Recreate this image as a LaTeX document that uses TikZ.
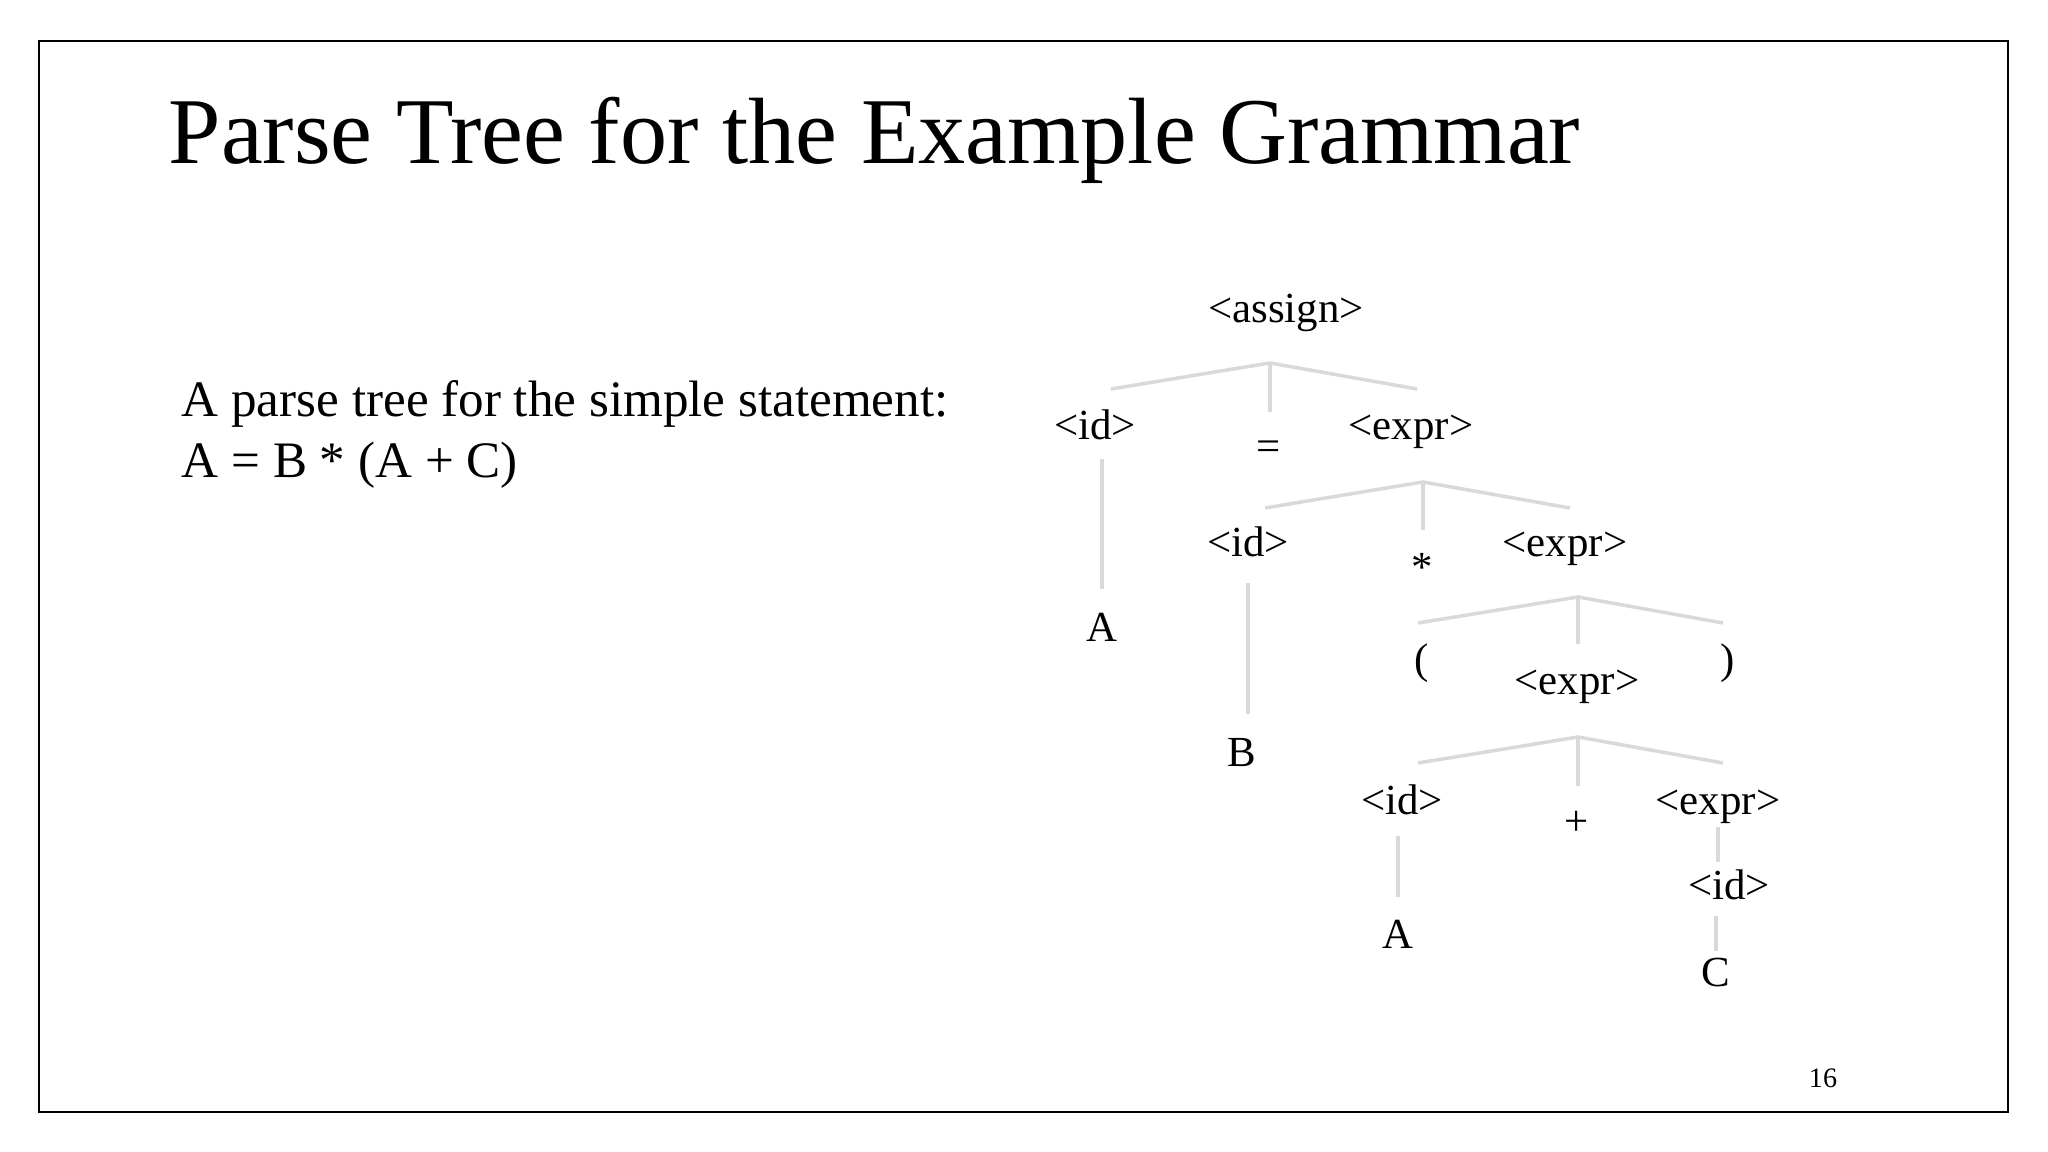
\documentclass[tikz,border=0pt]{standalone}
\usepackage{fontspec}
\setmainfont{Liberation Serif}
\usepackage{tikz}
\usetikzlibrary{calc}
\tikzset{
  branch/.style={line width=1pt, color=black!15},
  sym/.style={font=\fontsize{12.2}{14}\selectfont, inner sep=0pt, anchor=base},
  body/.style={font=\fontsize{14.55}{17}\selectfont, inner sep=0pt, anchor=base west}
}

\begin{document}
\begin{tikzpicture}
			%%%%% START %%%%%
			\useasboundingbox (0, 0) rectangle (20.48, 11.52);
			\draw[line width=0.6pt] (0.39, 0.40) rectangle (20.08, 11.11);
			
			\node[font=\fontsize{26.8}{30}\selectfont, inner sep=0pt, anchor=base west] (title) at (1.68, 9.88) {Parse Tree for the Example Grammar};
			\node[body] (stmt1) at (1.81, 7.35) {A parse tree for the simple statement:};
			\node[body] (stmt2) at (1.81, 6.74) {A = B * (A + C)};
			\node[font=\fontsize{8}{10}\selectfont, inner sep=0pt, anchor=base] (page) at (18.23, 0.64) {16};
			
			% tree symbols
			\node[sym] (assign) at (12.86, 8.29) {<assign>};
			
			\node[sym] (id1) at (10.95, 7.12) {<id>};
			\node[sym] (eq) at (12.69, 6.91) {=};
			\node[sym] (expr1) at (14.11, 7.12) {<expr>};
			\node[sym] (A1) at (11.02, 5.10) {A};
			
			\node[sym] (id2) at (12.48, 5.95) {<id>};
			\node[sym] (star) at (14.22, 5.70) {*};
			\node[sym] (expr2) at (15.65, 5.95) {<expr>};
			\node[sym] (B) at (12.42, 3.85) {B};
			
			\node[sym] (lp) at (14.22, 4.78) {(};
			\node[sym] (expr3) at (15.77, 4.57) {<expr>};
			\node[sym] (rp) at (17.28, 4.78) {)};
			
			\node[sym] (id3) at (14.02, 3.37) {<id>};
			\node[sym] (plus) at (15.77, 3.16) {+};
			\node[sym] (expr4) at (17.18, 3.37) {<expr>};
			\node[sym] (A2) at (13.98, 2.03) {A};
			\node[sym] (id4) at (17.29, 2.52) {<id>};
			\node[sym] (C) at (17.16, 1.65) {C};
			
			% forks
			\coordinate (assign-f) at (12.70, 7.89);
			\coordinate (assign-l) at (11.11, 7.63);
			\coordinate (assign-r) at (14.17, 7.63);
			\coordinate (assign-m) at (12.70, 7.40);
			\draw[branch] (assign-l) -- (assign-f) -- (assign-r);
			\draw[branch] (assign-f) -- (assign-m);
			
			\coordinate (expr1-f) at (14.23, 6.70);
			\coordinate (expr1-l) at (12.65, 6.44);
			\coordinate (expr1-r) at (15.70, 6.44);
			\coordinate (expr1-m) at (14.23, 6.22);
			\draw[branch] (expr1-l) -- (expr1-f) -- (expr1-r);
			\draw[branch] (expr1-f) -- (expr1-m);
			
			\coordinate (expr2-f) at (15.78, 5.55);
			\coordinate (expr2-l) at (14.18, 5.29);
			\coordinate (expr2-r) at (17.23, 5.29);
			\coordinate (expr2-m) at (15.78, 5.08);
			\draw[branch] (expr2-l) -- (expr2-f) -- (expr2-r);
			\draw[branch] (expr2-f) -- (expr2-m);
			
			\coordinate (expr3-f) at (15.78, 4.15);
			\coordinate (expr3-l) at (14.18, 3.89);
			\coordinate (expr3-r) at (17.23, 3.89);
			\coordinate (expr3-m) at (15.78, 3.66);
			\draw[branch] (expr3-l) -- (expr3-f) -- (expr3-r);
			\draw[branch] (expr3-f) -- (expr3-m);
			
			% single children
			\draw[branch, shorten <=0.18cm, shorten >=0.24cm] (id1.south -| A1.north) -- (A1.north);
			\draw[branch, shorten <=0.25cm, shorten >=0.24cm] (id2.south) -- (id2.south |- B.north);
			\draw[branch, shorten <=0.20cm, shorten >=0.23cm] (id3.south -| A2.north) -- (A2.north);
			\draw[branch, shorten <=0.02cm, shorten >=0.08cm] (expr4.south) -- (expr4.south |- id4.north);
			\draw[branch, shorten <=0.15cm, shorten >=0.07cm] (id4.south -| C.north) -- (C.north);
			
			%%%%% END %%%%%
\end{tikzpicture}
\end{document}
